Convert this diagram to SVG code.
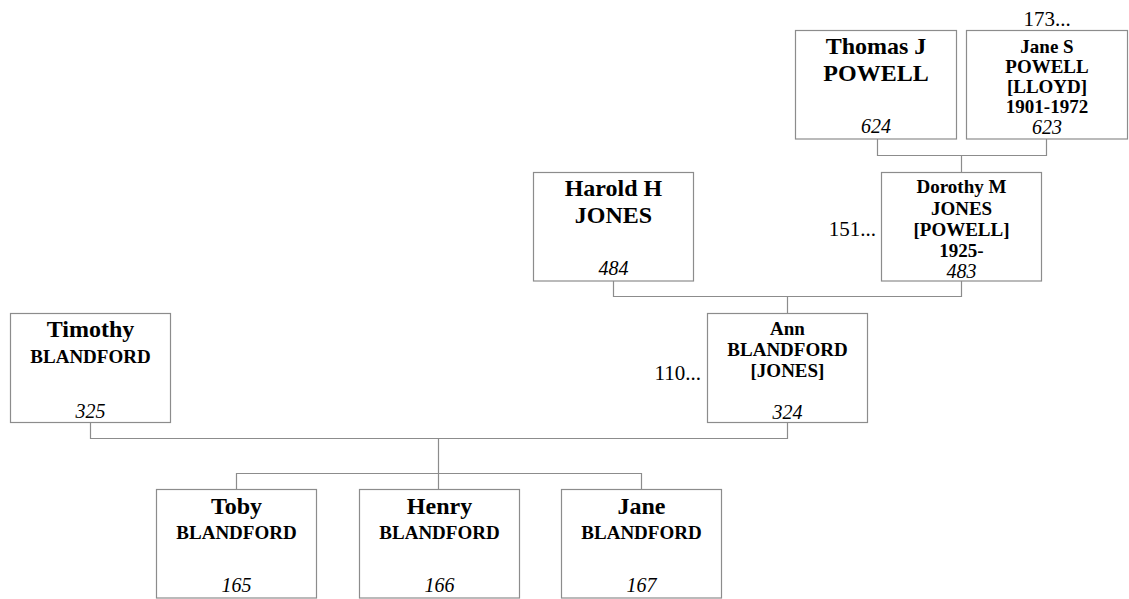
<svg xmlns="http://www.w3.org/2000/svg" width="1129" height="599" viewBox="0 0 1129 599">
<style>
.box{fill:#fff;stroke:#8c8c8c;stroke-width:1.2}
.ln{fill:none;stroke:#8c8c8c;stroke-width:1.2}
text{font-family:"Liberation Serif","Times New Roman",serif;fill:#000;text-anchor:middle}
.b24{font-size:24px;font-weight:bold}
.b19{font-size:19px;font-weight:bold}
.num{font-size:20px;font-style:italic}
.more{font-size:21px}
</style>
<rect width="1129" height="599" fill="#fff"/>
<g id="connectors">
<path class="ln" d="M877.5 139V155.5H1046.5V139M961.5 155.5V172.5"/>
<path class="ln" d="M613.5 281V296.5H961.5V281M787.5 296.5V313.5"/>
<path class="ln" d="M90.5 422.5V438.5H787.5V422.5M438.5 438.5V473.5"/>
<path class="ln" d="M236.5 489.5V473.5H641.5V489.5M438.5 473.5V489.5"/>
</g>
<g id="n624">
<rect class="box" x="795.5" y="30.5" width="161" height="108.5"/>
<text class="b24" x="876" y="54">Thomas J</text>
<text class="b24" x="876" y="81">POWELL</text>
<text class="num" x="876" y="133">624</text>
</g>
<g id="n623">
<text class="more" x="1047" y="26">173...</text>
<rect class="box" x="966.5" y="30.5" width="161" height="108.5"/>
<text class="b19" x="1047" y="53">Jane S</text>
<text class="b19" x="1047" y="73">POWELL</text>
<text class="b19" x="1047" y="93">[LLOYD]</text>
<text class="b19" x="1047" y="113">1901-1972</text>
<text class="num" x="1047" y="134">623</text>
</g>
<g id="n484">
<rect class="box" x="533.5" y="172.5" width="160" height="108.5"/>
<text class="b24" x="613.5" y="196">Harold H</text>
<text class="b24" x="613.5" y="223">JONES</text>
<text class="num" x="613.5" y="275">484</text>
</g>
<g id="n483">
<text class="more" x="876" y="236" style="text-anchor:end">151...</text>
<rect class="box" x="881.5" y="172.5" width="160" height="108.5"/>
<text class="b19" x="961.5" y="193">Dorothy M</text>
<text class="b19" x="961.5" y="214.5">JONES</text>
<text class="b19" x="961.5" y="236">[POWELL]</text>
<text class="b19" x="961.5" y="256.5">1925-</text>
<text class="num" x="961.5" y="278">483</text>
</g>
<g id="n325">
<rect class="box" x="10.5" y="313.5" width="160" height="109"/>
<text class="b24" x="90.5" y="337">Timothy</text>
<text class="b19" x="90.5" y="363">BLANDFORD</text>
<text class="num" x="90.5" y="418">325</text>
</g>
<g id="n324">
<text class="more" x="701" y="380" style="text-anchor:end">110...</text>
<rect class="box" x="707.5" y="313.5" width="160" height="109"/>
<text class="b19" x="787.5" y="335">Ann</text>
<text class="b19" x="787.5" y="356">BLANDFORD</text>
<text class="b19" x="787.5" y="377">[JONES]</text>
<text class="num" x="787.5" y="419">324</text>
</g>
<g id="n165">
<rect class="box" x="156.5" y="489.5" width="160" height="108.5"/>
<text class="b24" x="236.5" y="514">Toby</text>
<text class="b19" x="236.5" y="539">BLANDFORD</text>
<text class="num" x="236.5" y="592">165</text>
</g>
<g id="n166">
<rect class="box" x="359.5" y="489.5" width="160" height="108.5"/>
<text class="b24" x="439.5" y="514">Henry</text>
<text class="b19" x="439.5" y="539">BLANDFORD</text>
<text class="num" x="439.5" y="592">166</text>
</g>
<g id="n167">
<rect class="box" x="561.5" y="489.5" width="160" height="108.5"/>
<text class="b24" x="641.5" y="514">Jane</text>
<text class="b19" x="641.5" y="539">BLANDFORD</text>
<text class="num" x="641.5" y="592">167</text>
</g>
</svg>
